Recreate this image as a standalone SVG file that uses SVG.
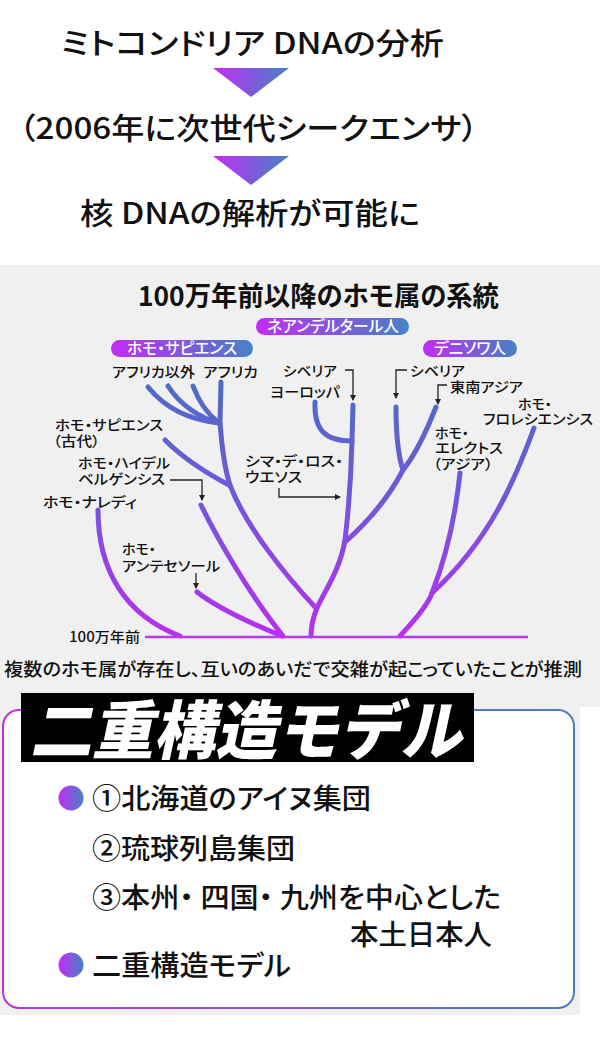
<svg xmlns="http://www.w3.org/2000/svg" width="600" height="1061" viewBox="0 0 600 1061">
<defs>
<linearGradient id="gh" x1="0" y1="0" x2="1" y2="0"><stop offset="0" stop-color="#c22cf4"/><stop offset="1" stop-color="#4682c6"/></linearGradient>
<linearGradient id="gl" gradientUnits="userSpaceOnUse" x1="0" y1="385" x2="0" y2="636"><stop offset="0" stop-color="#4f6cc6"/><stop offset="0.45" stop-color="#7157da"/><stop offset="1" stop-color="#b82ff0"/></linearGradient>
<linearGradient id="gb" gradientUnits="userSpaceOnUse" x1="3" y1="0" x2="575" y2="0"><stop offset="0" stop-color="#c02ee6"/><stop offset="1" stop-color="#4a80c0"/></linearGradient>
<marker id="ah" markerWidth="6" markerHeight="6" refX="5" refY="3" orient="auto" markerUnits="userSpaceOnUse"><path d="M0,0 L6,3 L0,6 Z" fill="#222"/></marker>
<style>
.t{font-family:"Noto Sans CJK JP","Noto Sans",sans-serif;fill:#111;font-feature-settings:"palt"}
.big{font-size:30px;font-weight:500}
.lb{font-size:14px;font-weight:500}
.pt{font-size:15.5px;font-weight:500;fill:#fff;text-anchor:middle}
.br{fill:none;stroke:url(#gl);stroke-width:5;stroke-linecap:round}
.ar{fill:none;stroke:#222;stroke-width:1.3;marker-end:url(#ah)}
.bl{font-size:28px;font-weight:500}
</style>
</defs>
<rect width="600" height="1061" fill="#fff"/>
<g id="flow">
<text class="t big" x="61" y="54" textLength="383" lengthAdjust="spacingAndGlyphs">ミトコンドリア DNAの分析</text>
<polygon points="213,68 289,68 251,97" fill="url(#gh)"/>
<text class="t big" x="19" y="139" textLength="459" lengthAdjust="spacingAndGlyphs">（2006年に次世代シークエンサ）</text>
<polygon points="213,156 289,156 251,185" fill="url(#gh)"/>
<text class="t big" x="80" y="224" textLength="340" lengthAdjust="spacingAndGlyphs">核 DNAの解析が可能に</text>
</g>
<rect x="0" y="265" width="600" height="442" fill="#f0f0f0"/>
<rect x="0" y="700" width="580" height="315" fill="#f0f0f0"/>
<g id="tree">
<text class="t" x="138" y="306" font-size="27" font-weight="700" textLength="361" lengthAdjust="spacingAndGlyphs">100万年前以降のホモ属の系統</text>
<g id="pill-n"><rect x="256" y="318" width="153" height="17" rx="8.5" fill="url(#gh)"/><text class="t pt" x="333" y="332" textLength="132" lengthAdjust="spacingAndGlyphs">ネアンデルタール人</text></g>
<g id="pill-s"><rect x="111" y="340" width="142" height="17" rx="8.5" fill="url(#gh)"/><text class="t pt" x="182" y="354" textLength="110" lengthAdjust="spacingAndGlyphs">ホモ・サピエンス</text></g>
<g id="pill-d"><rect x="423" y="340" width="94" height="17" rx="8.5" fill="url(#gh)"/><text class="t pt" x="470" y="354" textLength="72" lengthAdjust="spacingAndGlyphs">デニソワ人</text></g>
<g id="branches">
<path class="br" d="M221,382 L220,422 C222,450 225,470 230,485 C245,525 285,575 316,608"/>
<path class="br" d="M148,387 C165,408 190,420 219,423"/>
<path class="br" d="M168,386 C180,405 200,418 219,423"/>
<path class="br" d="M193,386 C200,405 210,416 219,423"/>
<path class="br" d="M165,440 C185,460 210,475 229,485"/>
<path class="br" d="M353,405 L352,440 C351,480 348,515 345,540 C340,570 325,590 317,608 C312,620 311,628 311,636"/>
<path class="br" d="M315,402 C314,430 325,441 352,441"/>
<path class="br" d="M396,407 C396,430 398,455 403,470"/>
<path class="br" d="M436,407 C425,435 415,455 403,470 C390,495 370,520 345,542"/>
<path class="br" d="M201,505 C218,540 250,595 283,636"/>
<path class="br" d="M197,592 C220,610 255,625 282,636"/>
<path class="br" d="M98,510 C98,570 125,615 180,636"/>
<path class="br" d="M400,636 C415,620 428,605 432,593"/>
<path class="br" d="M460,473 C455,520 445,560 432,593"/>
<path class="br" d="M534,428 C515,480 490,540 432,593"/>
<line x1="145" y1="637" x2="528" y2="637" stroke="#b43de8" stroke-width="2.5"/>
</g>
<g id="arrows">
<path class="ar" d="M345,370 H353 V400"/>
<path class="ar" d="M407,370 H396 V398"/>
<path class="ar" d="M447,385 H438 V404"/>
<path class="ar" d="M170,480 H202 V500"/>
<path class="ar" d="M196,573 V588"/>
<path class="ar" d="M279,488 V497 H340"/>
</g>
<g id="labels">
<text class="t lb" x="112" y="377" textLength="83" lengthAdjust="spacingAndGlyphs">アフリカ以外</text>
<text class="t lb" x="203" y="377" textLength="55" lengthAdjust="spacingAndGlyphs">アフリカ</text>
<text class="t lb" x="283" y="376" textLength="54" lengthAdjust="spacingAndGlyphs">シベリア</text>
<text class="t lb" x="270" y="397" textLength="70" lengthAdjust="spacingAndGlyphs">ヨーロッパ</text>
<text class="t lb" x="410" y="376" textLength="55" lengthAdjust="spacingAndGlyphs">シベリア</text>
<text class="t lb" x="450" y="392" textLength="73" lengthAdjust="spacingAndGlyphs">東南アジア</text>
<text class="t lb" x="518" y="409">ホモ・</text>
<text class="t lb" x="483" y="424" textLength="110" lengthAdjust="spacingAndGlyphs">フロレシエンシス</text>
<text class="t lb" x="435" y="438">ホモ・</text>
<text class="t lb" x="435" y="453" textLength="68" lengthAdjust="spacingAndGlyphs">エレクトス</text>
<text class="t lb" x="433" y="469" textLength="60" lengthAdjust="spacingAndGlyphs">（アジア）</text>
<text class="t lb" x="55" y="430" textLength="108" lengthAdjust="spacingAndGlyphs">ホモ・サピエンス</text>
<text class="t lb" x="53" y="446" textLength="47" lengthAdjust="spacingAndGlyphs">（古代）</text>
<text class="t lb" x="78" y="468" textLength="92" lengthAdjust="spacingAndGlyphs">ホモ・ハイデル</text>
<text class="t lb" x="78" y="484" textLength="87" lengthAdjust="spacingAndGlyphs">ベルゲンシス</text>
<text class="t lb" x="43" y="507" textLength="94" lengthAdjust="spacingAndGlyphs">ホモ・ナレディ</text>
<text class="t lb" x="122" y="554">ホモ・</text>
<text class="t lb" x="122" y="571" textLength="98" lengthAdjust="spacingAndGlyphs">アンテセソール</text>
<text class="t lb" x="245" y="466" textLength="98" lengthAdjust="spacingAndGlyphs">シマ・デ・ロス・</text>
<text class="t lb" x="245" y="482" textLength="57" lengthAdjust="spacingAndGlyphs">ウエソス</text>
<text class="t lb" x="69" y="642" textLength="71" lengthAdjust="spacingAndGlyphs">100万年前</text>
</g>
<text class="t" x="4" y="676" font-size="18" font-weight="500" textLength="578" lengthAdjust="spacingAndGlyphs">複数のホモ属が存在し、互いのあいだで交雑が起こっていたことが推測</text>
</g>
<g id="model">
<rect x="3" y="710" width="571" height="298" rx="16" fill="#fff" stroke="url(#gb)" stroke-width="2"/>
<rect x="21" y="693" width="453" height="69" fill="#000"/>
<text transform="translate(30,754) skewX(-12)" x="0" y="0" font-family="'Noto Sans CJK JP',sans-serif" font-size="64" font-weight="900" fill="#fff" textLength="432" lengthAdjust="spacingAndGlyphs">二重構造モデル</text>
<circle cx="71" cy="798" r="12.5" fill="url(#gh)"/>
<text class="t bl" x="92" y="809" textLength="279" lengthAdjust="spacingAndGlyphs">①北海道のアイヌ集団</text>
<text class="t bl" x="92" y="859" textLength="203" lengthAdjust="spacingAndGlyphs">②琉球列島集団</text>
<text class="t bl" x="92" y="908" textLength="409" lengthAdjust="spacingAndGlyphs">③本州・ 四国・ 九州を中心とした</text>
<text class="t bl" x="350" y="945" textLength="142" lengthAdjust="spacingAndGlyphs">本土日本人</text>
<circle cx="71" cy="965" r="12.5" fill="url(#gh)"/>
<text class="t bl" x="92" y="976" textLength="199" lengthAdjust="spacingAndGlyphs">二重構造モデル</text>
</g>
</svg>
